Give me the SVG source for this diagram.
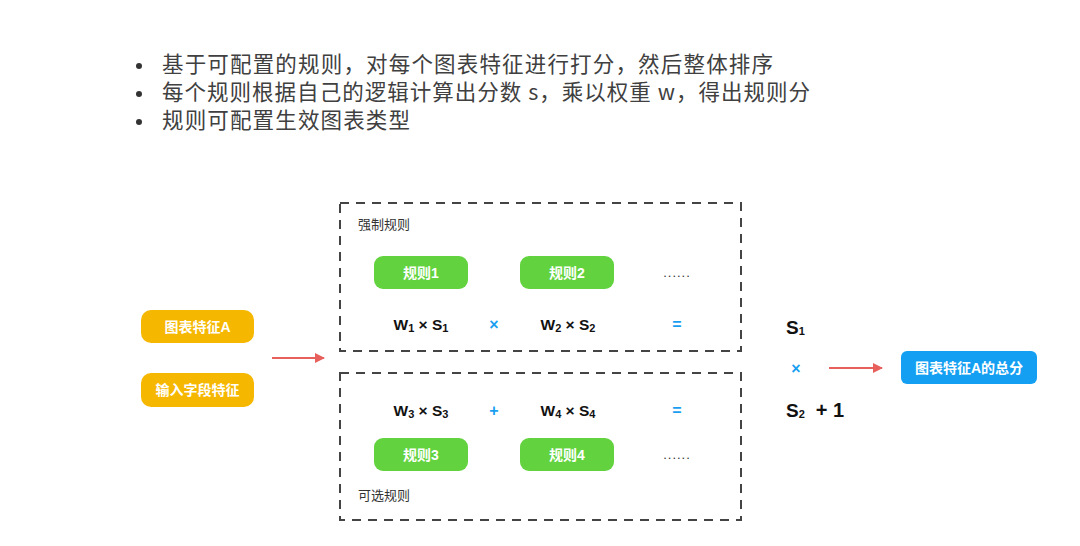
<svg xmlns="http://www.w3.org/2000/svg" width="1080" height="546" viewBox="0 0 1080 546">
<style>
.bul{font-family:"Noto Sans CJK SC","Liberation Sans",sans-serif;font-size:21.5px;fill:#404040;}
.dot{fill:#333;}
.dash{fill:none;stroke:#444;stroke-width:2;stroke-dasharray:9 7;}
.lbl{font-family:"Noto Sans CJK SC",sans-serif;font-size:13px;fill:#333;}
.btn{font-family:"Liberation Sans","Noto Sans CJK SC",sans-serif;font-size:14px;font-weight:bold;fill:#fff;text-anchor:middle;dominant-baseline:central;}
.green{fill:#62d33e;}
.yellow{fill:#f6b700;}
.blue{fill:#159ff2;}
.eq{font-family:"Liberation Sans",sans-serif;font-size:15.5px;font-weight:bold;fill:#111;text-anchor:middle;}
.sub{font-size:11px;}
.op{font-family:"Liberation Sans",sans-serif;font-size:16px;font-weight:bold;fill:#1a9ff0;text-anchor:middle;}
.big{font-family:"Liberation Sans",sans-serif;font-size:19px;font-weight:bold;fill:#111;}
.plus{font-size:20px;}
.more{font-family:"Liberation Sans",sans-serif;font-size:13px;fill:#333;text-anchor:middle;letter-spacing:1px;}
.arr{stroke:#e8605c;stroke-width:2;fill:none;}
</style>
<defs>
<marker id="ah" viewBox="0 0 10 10" refX="9" refY="5" markerWidth="10" markerHeight="10" markerUnits="userSpaceOnUse" orient="auto">
<path d="M0,0 L10,5 L0,10 Z" fill="#e8605c"/>
</marker>
</defs>
<rect width="1080" height="546" fill="#fff"/>

<g id="bullets">
<circle class="dot" cx="139" cy="66" r="3"/>
<circle class="dot" cx="139" cy="94" r="3"/>
<circle class="dot" cx="139" cy="122" r="3"/>
<text class="bul" x="162" y="72" textLength="611" lengthAdjust="spacing">基于可配置的规则，对每个图表特征进行打分，然后整体排序</text>
<text class="bul" x="162" y="100" textLength="648" lengthAdjust="spacing">每个规则根据自己的逻辑计算出分数 s，乘以权重 w，得出规则分</text>
<text class="bul" x="162" y="128" textLength="248" lengthAdjust="spacing">规则可配置生效图表类型</text>
</g>

<g id="connectors">
<line class="arr" x1="272" y1="358" x2="324" y2="358" marker-end="url(#ah)"/>
<line class="arr" x1="829" y1="368" x2="882" y2="368" marker-end="url(#ah)"/>
</g>

<g id="input-a">
<rect class="yellow" x="141" y="310" width="113" height="33" rx="10"/>
<text class="btn" x="197.5" y="326.5">图表特征A</text>
</g>
<g id="input-b">
<rect class="yellow" x="141" y="373" width="113" height="34" rx="10"/>
<text class="btn" x="197.5" y="390">输入字段特征</text>
</g>

<g id="mandatory">
<rect class="dash" x="340" y="203" width="401" height="148"/>
<text class="lbl" x="358" y="229">强制规则</text>
</g>
<g id="rule1">
<rect class="green" x="374" y="256" width="94" height="33" rx="9"/>
<text class="btn" x="421" y="272.5">规则1</text>
</g>
<g id="rule2">
<rect class="green" x="520" y="256" width="94" height="33" rx="9"/>
<text class="btn" x="567" y="272.5">规则2</text>
</g>
<text class="more" x="677" y="277">......</text>
<text class="eq" x="421" y="330">W<tspan class="sub" dy="2">1</tspan><tspan dy="-2"> × S</tspan><tspan class="sub" dy="2">1</tspan></text>
<text class="op" x="494" y="330">×</text>
<text class="eq" x="568" y="330">W<tspan class="sub" dy="2">2</tspan><tspan dy="-2"> × S</tspan><tspan class="sub" dy="2">2</tspan></text>
<text class="op" x="677" y="330">=</text>

<g id="optional">
<rect class="dash" x="340" y="373" width="401" height="147"/>
<text class="lbl" x="358" y="500">可选规则</text>
</g>
<text class="eq" x="421" y="416">W<tspan class="sub" dy="2">3</tspan><tspan dy="-2"> × S</tspan><tspan class="sub" dy="2">3</tspan></text>
<text class="op" x="494" y="416">+</text>
<text class="eq" x="568" y="416">W<tspan class="sub" dy="2">4</tspan><tspan dy="-2"> × S</tspan><tspan class="sub" dy="2">4</tspan></text>
<text class="op" x="677" y="416">=</text>
<g id="rule3">
<rect class="green" x="374" y="438" width="94" height="33" rx="9"/>
<text class="btn" x="421" y="454.5">规则3</text>
</g>
<g id="rule4">
<rect class="green" x="520" y="438" width="94" height="33" rx="9"/>
<text class="btn" x="567" y="454.5">规则4</text>
</g>
<text class="more" x="677" y="459">......</text>

<g id="formula">
<text class="big" x="786" y="334">S<tspan class="sub" dy="1">1</tspan></text>
<text class="op" x="796" y="374">×</text>
<text class="big" x="786" y="417">S<tspan class="sub" dy="1">2</tspan><tspan class="plus" dy="-1" dx="11">+ 1</tspan></text>
</g>

<g id="total">
<rect class="blue" x="901" y="351" width="136" height="33" rx="6"/>
<text class="btn" x="969" y="367.5">图表特征A的总分</text>
</g>
</svg>
